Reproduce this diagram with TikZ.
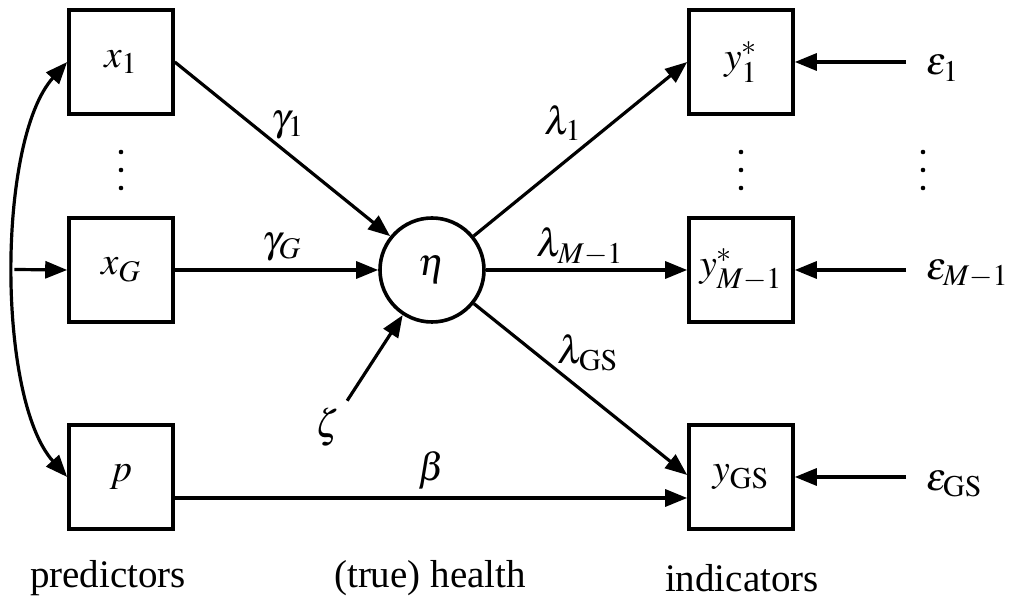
\documentclass[tikz,border=0pt]{standalone}
\usepackage{mathptmx}
\usepackage[no-math]{fontspec}
\setmainfont{Liberation Serif}
\usetikzlibrary{arrows.meta, positioning}

\DeclareMathSizes{19.5}{19.5}{15}{12}

\tikzset{
    var/.style={draw, line width=1.8pt, minimum size=52pt, inner sep=0pt},
    latent/.style={draw, circle, line width=1.8pt, minimum size=52pt, inner sep=0pt},
    errlab/.style={anchor=west, inner sep=1pt, outer sep=9pt},
    path/.style={-{Triangle[length=11pt, width=8.5pt]}, line width=1.6pt},
}

\begin{document}
\begin{tikzpicture}[x=0.5pt, y=-0.5pt, font=\fontsize{19.5}{23}\selectfont]

    \useasboundingbox (0,0) rectangle (1009,608);

    % Predictors
    \node[var] (x1) at (121, 62) {$x_1$};
    \node[var] (xG) at (121, 270) {$x_G$};
    \node[var] (p)  at (121, 477) {$p$};

    % Latent health
    \node[latent] (eta) at (432, 270) {$\eta$};
    \node (zeta) at (328, 427) {$\zeta$};

    % Indicators
    \node[var] (y1)  at (741, 62)  {$y^*_1$};
    \node[var] (yM)  at (741, 270) {$y^*_{M-1}$};
    \node[var] (yGS) at (741, 477) {$y_{\mathrm{GS}}$};

    % Errors
    \node[errlab] (e1)  at (906, 68)  {$\varepsilon_1$};
    \node[errlab] (eM)  at (906, 274) {$\varepsilon_{M-1}$};
    \node[errlab] (eGS) at (906, 484) {$\varepsilon_{\mathrm{GS}}$};

    % Dots
    \foreach \x in {121, 741, 923}
        \foreach \y in {152, 170, 188}
            \fill (\x, \y) circle (2.3);

    % Correlation among predictors
    \draw[{Triangle[length=11pt, width=8.5pt]}-{Triangle[length=11pt, width=8.5pt]}, line width=1.6pt]
        (x1.west) to[out=228, in=132, looseness=0.65] coordinate[pos=0.5] (split) (p.west);
    \draw[path] (split) -- (xG.west);

    % Structural paths
    \draw[path] (x1.east) -- (eta);
    \draw[path] (xG.east) -- (eta);
    \draw[path] (zeta.north east) -- (eta);
    \draw[path] (eta) -- (y1.west);
    \draw[path] (eta) -- (yM.west);
    \draw[path] (eta) -- ([yshift=1pt]yGS.west);
    \draw[path] ([yshift=-10.5pt]p.east) -- ([yshift=-10.5pt]yGS.west);

    % Measurement errors
    \draw[path] (e1.west |- y1.east) -- (y1.east);
    \draw[path] (eM.west |- yM.east) -- (yM.east);
    \draw[path] (eGS.west |- yGS.east) -- (yGS.east);

    % Path labels
    \node at (288, 125) {$\gamma_1$};
    \node at (282, 247) {$\gamma_G$};
    \node at (563, 123) {$\lambda_1$};
    \node at (580, 247) {$\lambda_{M-1}$};
    \node at (588, 353) {$\lambda_{\mathrm{GS}}$};
    \node at (432, 470) {$\beta$};

    % Group labels
    \node at (108, 578) {predictors};
    \node at (430, 578) {(true) health};
    \node at (742, 578) {indicators};

\end{tikzpicture}
\end{document}
